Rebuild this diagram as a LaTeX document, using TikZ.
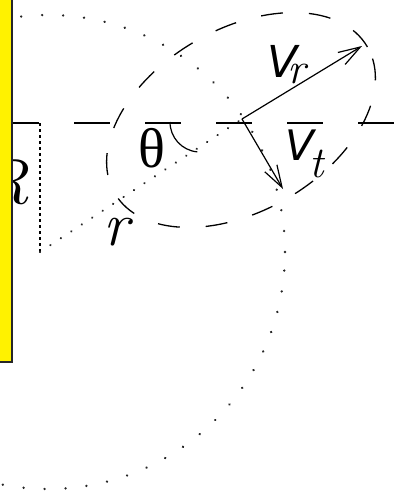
\documentclass[tikz,border=0pt]{standalone}
\usepackage{fontspec}
\newfontfamily\thfont{Liberation Serif}
\newfontfamily\vfont{DejaVu Sans}
\usetikzlibrary{arrows.meta}
\begin{document}
\begin{tikzpicture}[x=1pt,y=-1pt,
  axisline/.style={line width=1.3pt, dash pattern=on 36pt off 35pt},
  orbit/.style={line width=2.6pt, line cap=round, dash pattern=on 0.01pt off 21pt, black!85},
  radline/.style={line width=2.4pt, line cap=round, dash pattern=on 0.01pt off 12.5pt, black!85},
  rline/.style={line width=1.3pt, dash pattern=on 2.5pt off 3.5pt},
  ellline/.style={line width=1.3pt, dash pattern=on 22pt off 26pt},
  vec/.style={line width=1.2pt, -{Straight Barb[length=22pt,width=14pt,line width=1.2pt]}},
  lbl/.style={inner sep=0pt, anchor=base},
  panel/.style={fill=yellow, draw=black!85, line width=1.4pt}
]
\useasboundingbox (0,0) rectangle (397,498);
% named points
\coordinate (O) at (40,252);
\coordinate (T) at (40,123);
\coordinate (C) at (48,252);
\coordinate (P) at (242,119);
\coordinate (E) at (241,120);
\coordinate (L0) at (3,123);
\coordinate (L1) at (397,123);
\coordinate (VrEnd) at (362,46);
\coordinate (VtEnd) at (283,189);
\coordinate (A0) at (170,122);
% orbit
\draw[orbit] (C) circle[radius=237pt];
% horizontal reference line
\draw[axisline] (L0) -- (L1);
% R segment
\draw[rline] (T) -- (O);
% r radius
\draw[radline] (O) -- (P);
% dashed ellipse round the body
\draw[ellline, rotate around={30:(E)}] (E) ellipse[x radius=146pt, y radius=91pt];
% angle arc
\draw[line width=1.2pt] (A0) arc[start angle=180, end angle=265, radius=30pt];
% velocity vectors
\draw[vec] (P) -- (VrEnd);
\draw[vec] (P) -- (VtEnd);
% labels
\node[lbl, font=\fontsize{56}{56}\selectfont\thfont] (th) at (152,167) {θ};
\node[lbl, font=\fontsize{62}{62}\selectfont\itshape] (rr) at (116,245) {r};
\node[lbl, font=\fontsize{64}{64}\selectfont\itshape] (RR) at (6,203) {R};
\node[lbl, font=\fontsize{44}{44}\selectfont\vfont\itshape] (V1) at (283,77) {V};
\node[lbl, font=\fontsize{44}{44}\selectfont\itshape] (s1) at (297,83) {r};
\node[lbl, font=\fontsize{42}{42}\selectfont\vfont\itshape] (V2) at (300,160) {V};
\node[lbl, font=\fontsize{44}{44}\selectfont\itshape] (s2) at (317,177) {t};
% yellow panel at the left edge
\draw[panel] (-10,-10) rectangle (12,362);
\end{tikzpicture}
\end{document}
